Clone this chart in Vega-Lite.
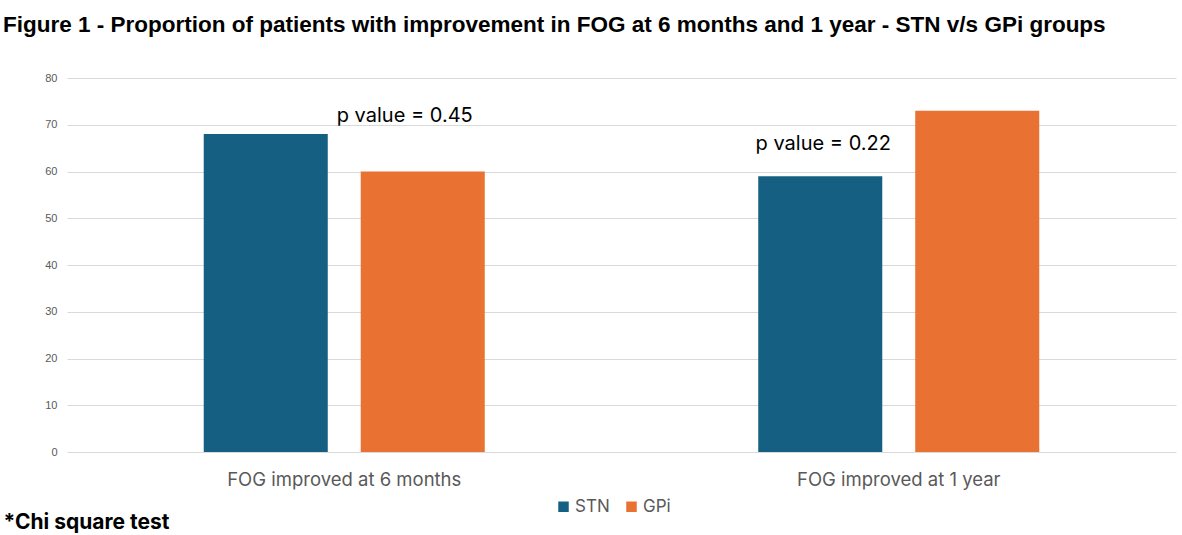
{
  "$schema": "https://vega.github.io/schema/vega-lite/v6.json",
  "autosize": {"type": "none"},
  "width": 1109,
  "height": 374,
  "padding": {"left": 67, "top": 78, "right": 6, "bottom": 83},
  "background": "white",
  "title": {
    "text": "Figure 1 - Proportion of patients with improvement in FOG at 6 months and 1 year - STN v/s GPi groups",
    "frame": "group",
    "anchor": "start",
    "dx": -64,
    "offset": 18,
    "baseline": "alphabetic",
    "font": "Liberation Sans",
    "fontSize": 22.5,
    "fontWeight": "bold",
    "color": "#000000",
    "limit": 0
  },
  "datasets": {
    "bars": [
      {"category": "FOG improved at 6 months", "group": "STN", "value": 68},
      {"category": "FOG improved at 6 months", "group": "GPi", "value": 60},
      {"category": "FOG improved at 1 year", "group": "STN", "value": 59},
      {"category": "FOG improved at 1 year", "group": "GPi", "value": 73}
    ],
    "notes": [
      {"category": "FOG improved at 6 months", "group": "GPi", "value": 70.6, "label": "p value = 0.45"},
      {"category": "FOG improved at 1 year", "group": "STN", "value": 64.6, "label": "p value = 0.22"}
    ]
  },
  "layer": [
    {
      "data": {"name": "bars"},
      "mark": {"type": "bar"},
      "encoding": {
        "x": {
          "field": "category", "type": "nominal",
          "sort": ["FOG improved at 6 months", "FOG improved at 1 year"],
          "scale": {"paddingInner": 0, "paddingOuter": 0},
          "axis": {
            "title": "*Chi square test",
            "titleX": -64, "titleY": 76,
            "titleAlign": "left", "titleAnchor": "start", "titleBaseline": "alphabetic",
            "titleFont": "Inter", "titleFontSize": 21, "titleFontWeight": "bold", "titleColor": "#000000",
            "labelAngle": 0, "labelFont": "Inter", "labelFontSize": 18.5, "labelColor": "#595959",
            "labelPadding": 18, "labelLimit": 0, "domain": false, "ticks": false, "grid": false
          }
        },
        "xOffset": {
          "field": "group", "type": "nominal", "sort": ["STN", "GPi"],
          "scale": {"paddingInner": 0.21, "paddingOuter": 0.871}
        },
        "y": {
          "field": "value", "type": "quantitative",
          "scale": {"domain": [0, 80], "nice": false},
          "axis": {
            "title": null, "values": [0, 10, 20, 30, 40, 50, 60, 70, 80],
            "labelFont": "Liberation Sans", "labelFontSize": 11, "labelColor": "#595959",
            "labelPadding": 10, "domain": false, "ticks": false,
            "grid": true, "gridColor": "#d9d9d9", "gridWidth": 1
          }
        },
        "color": {
          "field": "group", "type": "nominal",
          "scale": {"domain": ["STN", "GPi"], "range": ["#156082", "#E97132"]},
          "legend": {
            "title": null, "orient": "none", "direction": "horizontal",
            "legendX": 488, "legendY": 420,
            "symbolType": "square", "symbolSize": 110, "symbolStrokeWidth": 0,
            "labelFont": "Inter", "labelFontSize": 17, "labelColor": "#595959",
            "columnPadding": 13, "labelOffset": 3
          }
        }
      }
    },
    {
      "data": {"name": "notes"},
      "transform": [{"filter": "datum.category === 'FOG improved at 6 months'"}],
      "mark": {"type": "text", "font": "Inter", "fontSize": 20, "color": "#000000", "baseline": "alphabetic", "align": "center", "dx": -18},
      "encoding": {
        "x": {"field": "category", "type": "nominal", "sort": ["FOG improved at 6 months", "FOG improved at 1 year"]},
        "xOffset": {"field": "group", "type": "nominal", "sort": ["STN", "GPi"]},
        "y": {"field": "value", "type": "quantitative"},
        "text": {"field": "label"}
      }
    },
    {
      "data": {"name": "notes"},
      "transform": [{"filter": "datum.category === 'FOG improved at 1 year'"}],
      "mark": {"type": "text", "font": "Inter", "fontSize": 20, "color": "#000000", "baseline": "alphabetic", "align": "center", "dx": 3},
      "encoding": {
        "x": {"field": "category", "type": "nominal", "sort": ["FOG improved at 6 months", "FOG improved at 1 year"]},
        "xOffset": {"field": "group", "type": "nominal", "sort": ["STN", "GPi"]},
        "y": {"field": "value", "type": "quantitative"},
        "text": {"field": "label"}
      }
    }
  ],
  "config": {"view": {"stroke": null}}
}
